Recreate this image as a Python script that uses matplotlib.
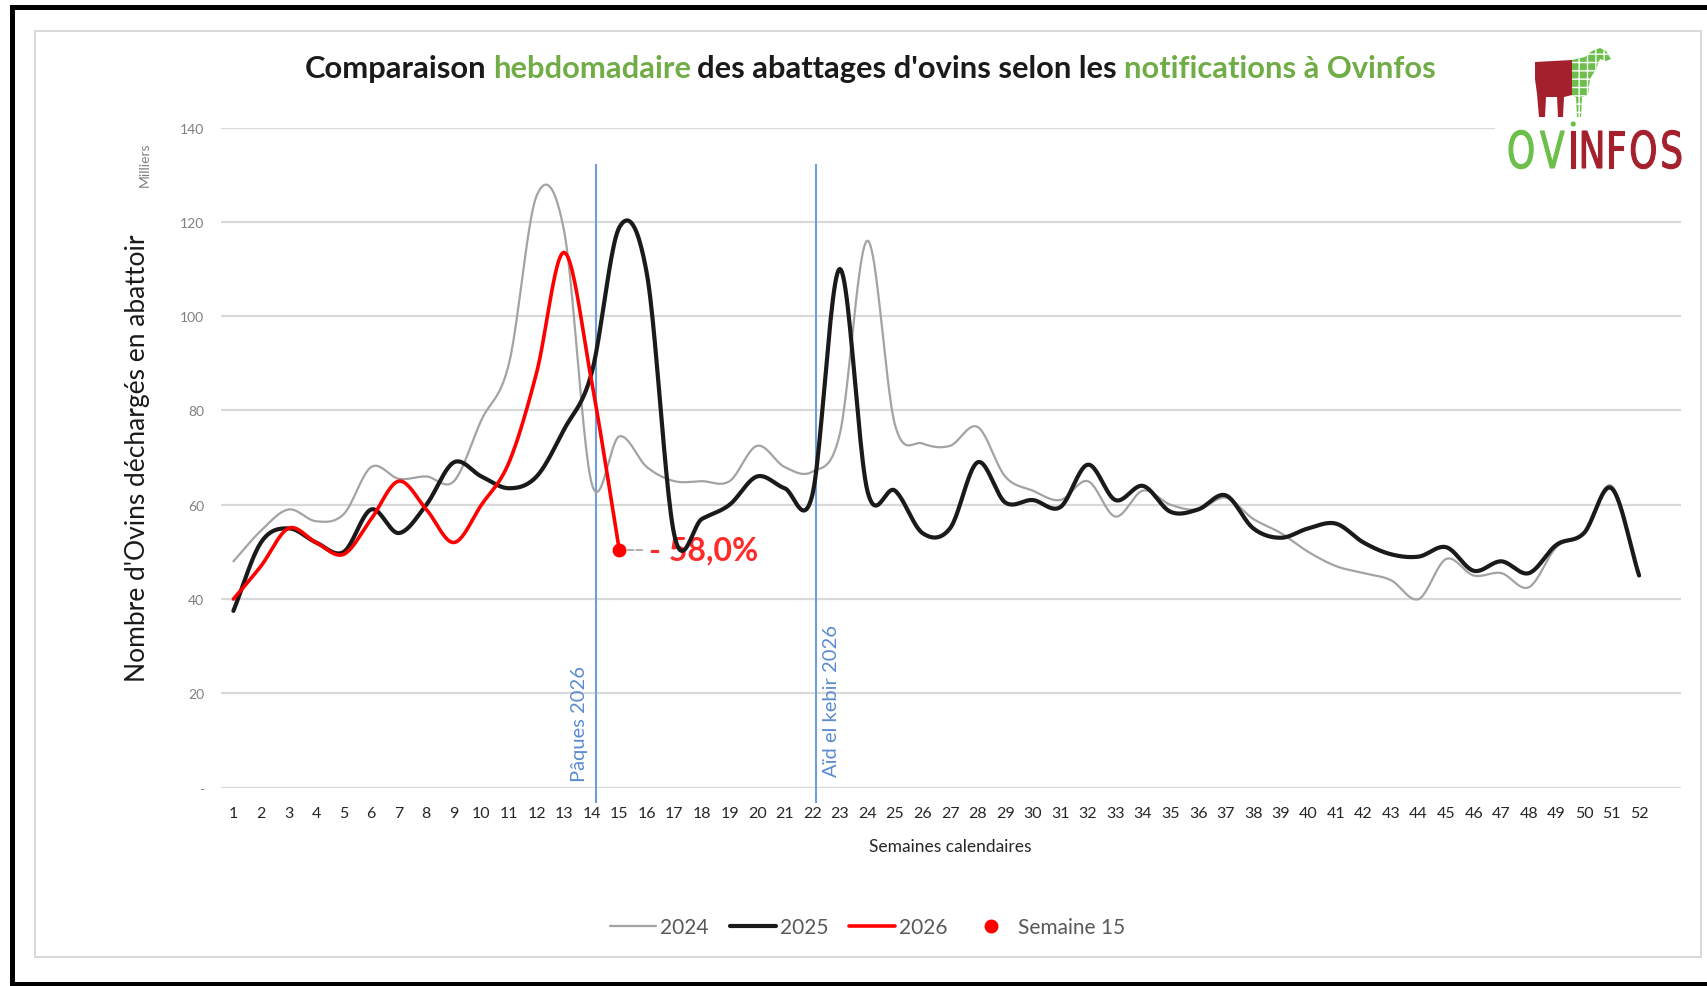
import numpy as np
import matplotlib
matplotlib.use("Agg")
import matplotlib.pyplot as plt
from matplotlib.patches import Rectangle, Polygon, PathPatch, Circle
from matplotlib.lines import Line2D
from matplotlib.path import Path
from matplotlib.textpath import TextPath
from matplotlib.font_manager import FontProperties
from matplotlib.transforms import Affine2D
from matplotlib.ticker import FuncFormatter

# ---------------- data ----------------
weeks = list(range(1, 53))
ovins_2024 = [48, 54.5, 59, 56.5, 58, 68, 65.5, 66, 65, 78, 90, 125.5, 118, 64.5,
              74.5, 68, 65, 65, 65, 72.5, 68, 67, 75, 116, 77, 73, 72.5, 76.5,
              66, 63, 61, 65, 57.5, 63, 60, 59, 61.5, 57, 54, 50, 47, 45.5, 44,
              40, 48.5, 45, 45.5, 42.5, 51, 54, 64, 45]
ovins_2025 = [37.5, 52, 55, 52, 50, 59, 54, 60, 69, 66, 63.5, 66, 76, 88, 118.8,
              109, 53.5, 57, 60, 66, 63.5, 62, 110, 63, 63, 54, 55, 69, 60.5, 61,
              59.5, 68.5, 61, 64, 58.5, 59, 62, 55, 53, 55, 56, 52, 49.5, 49,
              51, 46, 48, 45.5, 51.5, 54, 63.5, 45]
ovins_2026 = [40, 47, 55, 52, 49.5, 57, 65, 59, 52, 60, 69, 88, 113.5, 86, 50.4]
highlight_week = 15
highlight_label = "- 58,0%"
event_weeks = [14.15, 22.12]
event_labels = ["Pâques 2026", "Aïd el kebir 2026"]
y_ticks = [0, 20, 40, 60, 80, 100, 120, 140]
series_labels = ["2024", "2025", "2026", "Semaine 15"]

title_parts = ["Comparaison", "hebdomadaire", "des abattages d'ovins selon les",
               "notifications à Ovinfos"]

# ---------------- style ----------------
W, H = 1708, 987
DARK = "#1a1a1a"
GREEN = "#70ad47"
BLUE_LINE = "#6f9fd8"
BLUE_TXT = "#5b8bd0"
RED = "#ff0000"
FONT = "Lato"


def fx(px):
    return px / W


def fy(py):
    return 1 - py / H


def smooth(x, y, n=24):
    """Excel-like smoothed line (cubic Bezier through each point)."""
    x = np.asarray(x, float)
    y = np.asarray(y, float)
    px = np.concatenate([[2 * x[0] - x[1]], x, [2 * x[-1] - x[-2]]])
    py = np.concatenate([[2 * y[0] - y[1]], y, [2 * y[-1] - y[-2]]])
    t = np.linspace(0, 1, n, endpoint=False)
    xs, ys = [], []
    for i in range(1, len(px) - 2):
        for arr, out in ((px, xs), (py, ys)):
            p0, p1, p2, p3 = arr[i - 1], arr[i], arr[i + 1], arr[i + 2]
            c1 = p1 + (p2 - p0) / 6.0
            c2 = p2 - (p3 - p1) / 6.0
            b = ((1 - t) ** 3 * p1 + 3 * (1 - t) ** 2 * t * c1
                 + 3 * (1 - t) * t ** 2 * c2 + t ** 3 * p2)
            out.extend(b)
    xs.append(x[-1])
    ys.append(y[-1])
    return np.array(xs), np.array(ys)


fig = plt.figure(figsize=(W / 100, H / 100), dpi=100)
fig.patch.set_facecolor("white")

ax = fig.add_axes([fx(221), fy(788.7), (1681 - 221) / W, (788.7 - 128.5) / H])
ax.set_xlim(0.55, 53.52)
ax.set_ylim(0, 140)
for s in ax.spines.values():
    s.set_visible(False)
ax.set_yticks(y_ticks)
ax.yaxis.set_major_formatter(FuncFormatter(lambda v, p: "-" if v == 0 else f"{int(v)}"))
ax.set_xticks(weeks)
ax.set_xticklabels([str(w) for w in weeks])
ax.tick_params(axis="both", length=0)
ax.tick_params(axis="y", labelsize=10, labelcolor="#808080", pad=12)
ax.tick_params(axis="x", labelsize=11.5, labelcolor="#262626", pad=13)
for lab in ax.get_xticklabels() + ax.get_yticklabels():
    lab.set_family(FONT)
ax.yaxis.grid(True, color="#d9d9d9", lw=1.6)
ax.xaxis.grid(False)
ax.set_axisbelow(True)

# event lines
for xe in event_weeks:
    ax.plot([xe, xe], [-3, 132], color=BLUE_LINE, lw=1.5, clip_on=False, zorder=1)
ax.annotate(event_labels[0], xy=(event_weeks[0], 1.5), xytext=(-8, 0),
            textcoords="offset pixels", rotation=90, ha="right", va="bottom",
            color=BLUE_TXT, fontsize=14.5, family=FONT)
ax.annotate(event_labels[1], xy=(event_weeks[1], 2.5), xytext=(7, 0),
            textcoords="offset pixels", rotation=90, ha="left", va="bottom",
            color=BLUE_TXT, fontsize=14.5, family=FONT)

# series
l24, = ax.plot(*smooth(weeks, ovins_2024), color="#a3a3a3", lw=1.6, zorder=3,
               label=series_labels[0], solid_capstyle="round")
l25, = ax.plot(*smooth(weeks, ovins_2025), color=DARK, lw=3.0, zorder=4,
               label=series_labels[1], solid_capstyle="round")
l26, = ax.plot(*smooth(weeks[:len(ovins_2026)], ovins_2026), color=RED, lw=2.6,
               zorder=5, label=series_labels[2], solid_capstyle="round")
hv = ovins_2026[highlight_week - 1]
mk, = ax.plot([highlight_week], [hv], "o", color=RED, ms=9, zorder=6,
              label=series_labels[3])
ax.annotate(highlight_label, xy=(highlight_week, hv), xytext=(30, 0),
            textcoords="offset pixels", ha="left", va="center", color="#ff2a2a",
            fontsize=23, fontweight="bold", family=FONT, zorder=3.5,
            arrowprops=dict(arrowstyle="-", color="#a0a0a0", ls="--", lw=1.2,
                            shrinkA=3, shrinkB=6))

# legend
fig.legend([l24, l25, l26, mk], series_labels, loc="center",
           bbox_to_anchor=(fx(868), fy(928)), ncol=4, frameon=False,
           prop=FontProperties(family=FONT, size=15), labelcolor="#595959",
           handlelength=2.2, handletextpad=0.2, columnspacing=1.0)

# axis labels
fig.text(fx(138), fy(458), "Nombre d'Ovins déchargés en abattoir", rotation=90,
         ha="center", va="center", fontsize=19, family=FONT, color=DARK)
fig.text(fx(145), fy(165), "Milliers", rotation=90, ha="center", va="center",
         fontsize=10, family=FONT, color="#7f7f7f")
fig.text(fx(950), fy(847), "Semaines calendaires", ha="center", va="center",
         fontsize=12.5, family=FONT, color="#262626")

# title (multi coloured, centred at x=870 px, width ~1131 px)
title_colors = [DARK, GREEN, DARK, GREEN]
fig.canvas.draw()
renderer = fig.canvas.get_renderer()


def measure(s, size):
    t = fig.text(0, 0, s, fontsize=size, fontweight="bold", family=FONT)
    w = t.get_window_extent(renderer).width
    t.remove()
    return w


base = 20
space = measure("x x", base) - measure("xx", base)
widths = [measure(p, base) for p in title_parts]
total = sum(widths) + space * (len(title_parts) - 1)
size = base * 1131 / total
scale = size / base
xcur = 870 - 1131 / 2
for p, c, w in zip(title_parts, title_colors, widths):
    fig.text(fx(xcur), fy(69), p, color=c, fontsize=size, fontweight="bold",
             family=FONT, ha="left", va="center")
    xcur += (w + space) * scale

# frame
fig.add_artist(Rectangle((fx(35), fy(958)), (1701 - 35) / W, (958 - 32) / H,
                         facecolor="none", edgecolor="#d9d9d9", lw=1.5, zorder=1))
fig.add_artist(Rectangle((fx(10), fy(11)), (W - 10) / W, 5 / H, facecolor="black",
                         edgecolor="none", zorder=1))
fig.add_artist(Rectangle((fx(10), 0), 5 / W, fy(6), facecolor="black",
                         edgecolor="none", zorder=1))
fig.add_artist(Rectangle((fx(10), 0), (W - 10) / W, 4 / H, facecolor="black",
                         edgecolor="none", zorder=1))

# logo
fig.add_artist(Rectangle((fx(1495), fy(178)), 200 / W, 140 / H, facecolor="white",
                         edgecolor="none", zorder=1))
LOGO_GREEN = "#6cbf4a"
LOGO_RED = "#a3202c"


def img_pts(pts):
    return [(x, H - y) for x, y in pts]


red_body = img_pts([(1535, 63), (1572, 61), (1572, 96), (1564, 98), (1563, 118),
                    (1558, 118), (1557, 98), (1546, 98), (1545, 118), (1539, 118),
                    (1537, 95), (1535, 80)])
green_body = img_pts([(1572, 61), (1585, 58), (1592, 52), (1600, 49), (1606, 52),
                      (1611, 60), (1606, 62), (1600, 60), (1596, 70), (1590, 80),
                      (1588, 96), (1582, 98), (1581, 118), (1577, 118), (1576, 98),
                      (1572, 96)])
fig.add_artist(Polygon(red_body, closed=True, facecolor=LOGO_RED, edgecolor="none",
                       transform=Affine2D(), zorder=2))
fig.add_artist(Polygon(green_body, closed=True, facecolor=LOGO_GREEN,
                       edgecolor="white", hatch="++", lw=0, transform=Affine2D(),
                       zorder=2))

fp = FontProperties(family="DejaVu Sans")
letters = [("O", LOGO_GREEN), ("V", LOGO_GREEN), ("I", LOGO_RED), ("N", LOGO_RED),
           ("F", LOGO_RED), ("O", LOGO_RED), ("S", LOGO_RED)]
gap = 20
cursor = 0
paths = []
for ch, col in letters:
    tp = TextPath((0, 0), ch, size=100, prop=fp)
    ext = tp.get_extents()
    v = tp.vertices.copy()
    v[:, 0] += cursor - ext.x0
    paths.append((Path(v, tp.codes), col, cursor, ext.width))
    cursor += ext.width + gap
total_w = cursor - gap
cap_h = TextPath((0, 0), "N", size=100, prop=fp).get_extents().height
sx = 172 / total_w
sy = 37 / cap_h
x0, y0 = 1509, H - 169
for p, col, cx, cw in paths:
    fig.add_artist(PathPatch(p, facecolor=col, edgecolor=col, lw=0.8,
                             transform=Affine2D().scale(sx, sy).translate(x0, y0),
                             zorder=2))
i_cx = x0 + (paths[2][2] + paths[2][3] / 2) * sx
fig.add_artist(Circle((i_cx, H - 125), 2.6, facecolor=LOGO_GREEN, edgecolor="none",
                      transform=Affine2D(), zorder=2))

fig.savefig("out.png", dpi=100, facecolor="white")
